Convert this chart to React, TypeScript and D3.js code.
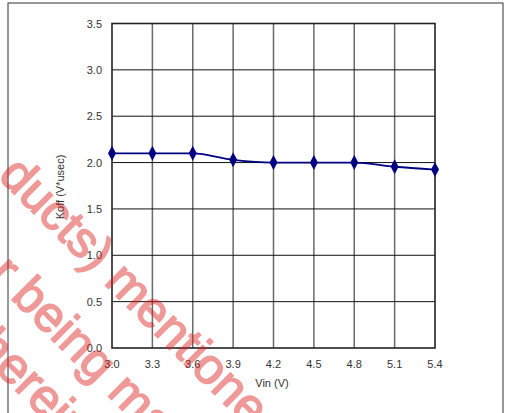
import React from "react";
import * as d3 from "d3";

const vin = [3.0, 3.3, 3.6, 3.9, 4.2, 4.5, 4.8, 5.1, 5.4];
const koff = [2.1, 2.1, 2.1, 2.03, 2.0, 2.0, 2.0, 1.955, 1.925];
const xTicks = [3.0, 3.3, 3.6, 3.9, 4.2, 4.5, 4.8, 5.1, 5.4];
const yTicks = [0, 0.5, 1.0, 1.5, 2.0, 2.5, 3.0, 3.5];
const xTitle = "Vin (V)";
const yTitle = "Koff (V*usec)";
const watermarkLines = ["ducts) mentioned herein", "r being manufactured", "herein"];

const W = 510;
const H = 413;
const left = 112;
const right = 435;
const top = 23.5;
const bottom = 348;

export default function App() {
  const x = d3.scaleLinear().domain([3.0, 5.4]).range([left, right]);
  const y = d3.scaleLinear().domain([0, 3.5]).range([bottom, top]);
  const pts: [number, number][] = vin.map((v, i) => [x(v), y(koff[i])]);
  const line = d3.line().curve(d3.curveMonotoneX)(pts) || "";
  const font = "'Liberation Sans', Arial, sans-serif";
  const wm = [
    { x: -3, y: 177 },
    { x: -12, y: 276 },
    { x: -26, y: 349 },
  ];
  return (
    <svg
      width={W}
      height={H}
      style={{ position: "absolute", left: 0, top: 0, background: "#fff" }}
      fontFamily={font}
    >
      <rect x={8} y={3} width={495} height={H} fill="none" stroke="#333" strokeWidth={1} />
      {xTicks.slice(1, -1).map((t) => (
        <line key={"vx" + t} x1={x(t)} x2={x(t)} y1={top} y2={bottom} stroke="#6a6a6a" strokeWidth={1.5} />
      ))}
      {yTicks.slice(1, -1).map((t) => (
        <line key={"hy" + t} x1={left} x2={right} y1={y(t)} y2={y(t)} stroke="#111" strokeWidth={1} />
      ))}
      <rect x={left} y={top} width={right - left} height={bottom - top} fill="none" stroke="#222" strokeWidth={1.6} />
      {yTicks.map((t) => (
        <text key={"yl" + t} x={102} y={y(t) + 4} textAnchor="end" fontSize={11} fill="#333">
          {t.toFixed(1)}
        </text>
      ))}
      {xTicks.map((t) => (
        <text key={"xl" + t} x={x(t)} y={368} textAnchor="middle" fontSize={11} fill="#333">
          {t.toFixed(1)}
        </text>
      ))}
      <text x={272} y={387} textAnchor="middle" fontSize={11} fill="#333">
        {xTitle}
      </text>
      <text transform="translate(64,187) rotate(-90)" textAnchor="middle" fontSize={11} fill="#333">
        {yTitle}
      </text>
      <path d={line} fill="none" stroke="#000080" strokeWidth={1.8} />
      {pts.map(([px, py], i) => (
        <path
          key={"m" + i}
          d={`M${px},${py - 7.5}L${px + 4},${py}L${px},${py + 7.5}L${px - 4},${py}Z`}
          fill="#000080"
        />
      ))}
      <g opacity={0.45}>
        {watermarkLines.map((s, i) => (
          <text
            key={"wm" + i}
            transform={`translate(${wm[i].x},${wm[i].y}) rotate(45)`}
            fontSize={50}
            fill="#dc1e1e"
            stroke="#dc1e1e"
            strokeWidth={1.6}
            strokeLinejoin="round"
          >
            {s}
          </text>
        ))}
      </g>
    </svg>
  );
}
